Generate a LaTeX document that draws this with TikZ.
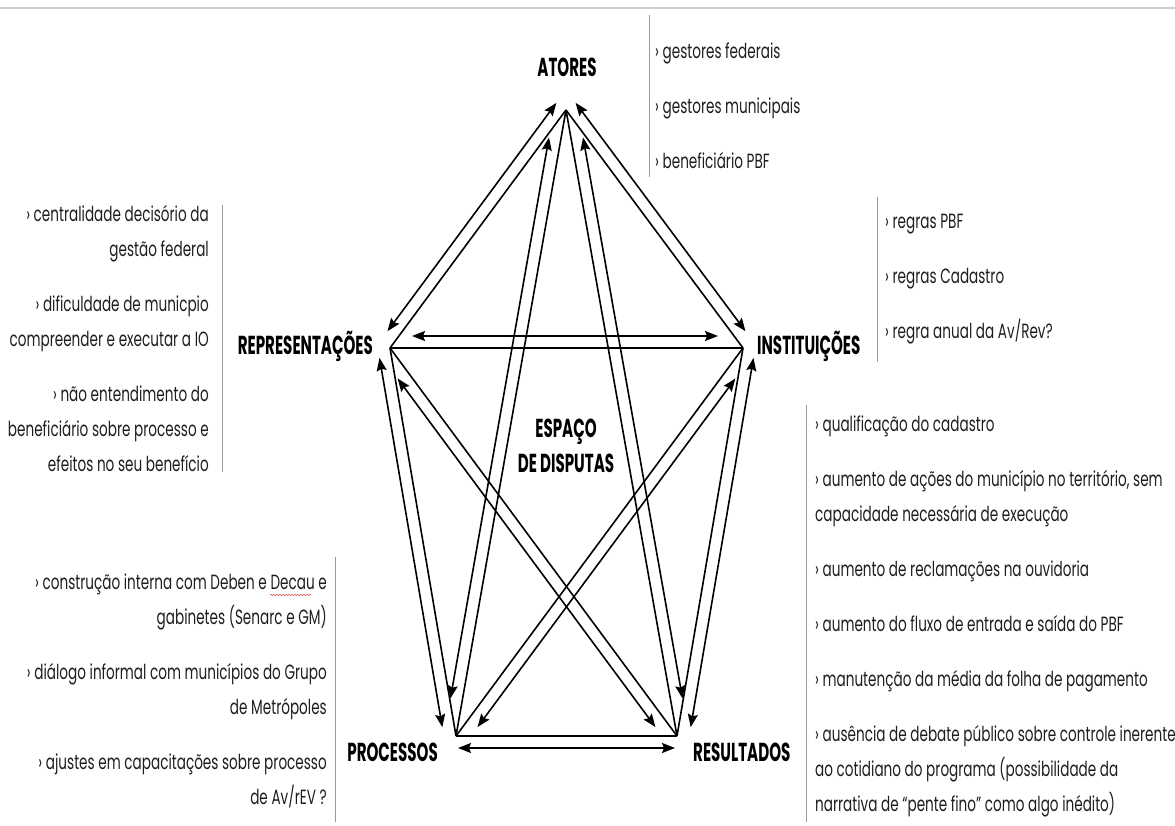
\documentclass[tikz,border=0pt]{standalone}
\usepackage{fontspec}
\setmainfont{Poppins}[FakeStretch=0.66]
\newfontfamily\headfont{Poppins}[FakeStretch=0.58]
\usetikzlibrary{arrows.meta,calc,decorations.pathmorphing}
\definecolor{txt}{HTML}{1E1E1E}
\definecolor{rulegray}{HTML}{9A9A9A}
\definecolor{topgray}{HTML}{CFCFCF}
\definecolor{spellred}{HTML}{E06060}
\tikzset{
  plain/.style={line width=1.6pt, black},
  dbl/.style={line width=1.6pt, black,
    {Stealth[length=13pt,width=10pt,inset=2pt]}-{Stealth[length=13pt,width=10pt,inset=2pt]}},
  head/.style={font=\headfont\fontsize{26}{30}\selectfont\bfseries, text=black, inner sep=0pt},
  block/.style={font=\fontsize{20.6}{35}\selectfont, text=txt, inner sep=0pt},
  sepline/.style={line width=0.8pt, rulegray},
  spell/.style={spellred, line width=0.6pt, decorate,
    decoration={snake, amplitude=0.8pt, segment length=3pt}},
}
\newcommand\twoway[4]{\draw[dbl, shorten <=#3pt, shorten >=#4pt]
  ($(#1)!12pt!90:(#2)$) -- ($(#2)!12pt!-90:(#1)$);}
\begin{document}
\begin{tikzpicture}[x=1pt,y=-1pt]
\useasboundingbox (0,0) rectangle (1175,826);
% top rule
\coordinate (tl) at (0,8);
\coordinate (tr) at (1175,8);
\draw[topgray, line width=2pt] (tl) -- (tr);

% pentagon vertices
\coordinate (A) at (566,110);
\coordinate (R) at (390,348);
\coordinate (I) at (743,348);
\coordinate (P) at (456,736);
\coordinate (S) at (677,736);

% plain lines
\foreach \u/\v in {A/R,A/I,A/P,A/S,R/I,R/P,R/S,I/P,I/S,P/S}
  \draw[plain] (\u) -- (\v);

% double-headed arrows (offset outward)
\twoway{R}{A}{12}{0}
\twoway{A}{I}{0}{12}
\twoway{I}{S}{8}{11}
\twoway{S}{P}{2}{2}
\twoway{P}{R}{11}{8}
\twoway{R}{I}{22}{25}
\twoway{P}{A}{36}{30}
\twoway{A}{S}{30}{36}
\twoway{S}{R}{20}{29}
\twoway{I}{P}{29}{20}

% headings
\node[head, anchor=base] (hA) at (567,77) {ATORES};
\node[head, anchor=base east] (hR) at (373,354) {REPRESENTAÇÕES};
\node[head, anchor=base west] (hI) at (757,354) {INSTITUIÇÕES};
\node[head, anchor=base east] (hP) at (438,761) {PROCESSOS};
\node[head, anchor=base west] (hS) at (693,761) {RESULTADOS};
\node[head, anchor=base, align=center] (hE) at (566,437) {ESPAÇO};
\node[head, anchor=base, align=center] (hE2) at (566,472) {DE DISPUTAS};

% separator lines
\coordinate (s1a) at (649,15);  \coordinate (s1b) at (649,177);
\coordinate (s2a) at (222,205); \coordinate (s2b) at (222,472);
\coordinate (s3a) at (877,197); \coordinate (s3b) at (877,362);
\coordinate (s4a) at (806,405); \coordinate (s4b) at (806,822);
\coordinate (s5a) at (335,557); \coordinate (s5b) at (335,822);
\draw[sepline] (s1a) -- (s1b);
\draw[sepline] (s2a) -- (s2b);
\draw[sepline] (s3a) -- (s3b);
\draw[sepline] (s4a) -- (s4b);
\draw[sepline] (s5a) -- (s5b);

% text blocks
\node[block, anchor=north west, align=left] (tA) at (655,33.5) {%
\strut› gestores federais\\[20pt]
\strut› gestores municipais\\[20pt]
\strut› beneficiário PBF};

\node[block, anchor=north east, align=right] (tR) at (209,196.5) {%
\strut› centralidade decisório da\\
\strut gestão federal\\[20pt]
\strut› dificuldade de municpio\\
\strut compreender e executar a IO\\[20pt]
\strut› não entendimento do\\
\strut beneficiário sobre processo e\\
\strut efeitos no seu benefício};

\node[block, anchor=north west, align=left] (tI) at (885,203.5) {%
\strut› regras PBF\\[20pt]
\strut› regras Cadastro\\[20pt]
\strut› regra anual da Av/Rev?};

\node[block, anchor=north west, align=left] (tS) at (815,406.5) {%
\strut› qualificação do cadastro\\[20pt]
\strut› aumento de ações do município no território, sem\\
\strut capacidade necessária de execução\\[20pt]
\strut› aumento de reclamações na ouvidoria\\[20pt]
\strut› aumento do fluxo de entrada e saída do PBF\\[20pt]
\strut› manutenção da média da folha de pagamento\\[20pt]
\strut› ausência de debate público sobre controle inerente\\
\strut ao cotidiano do programa (possibilidade da\\
\strut narrativa de “pente fino” como algo inédito)};

\node[block, anchor=north east, align=right] (tP) at (327,564.5) {%
\strut› construção interna com Deben e Decau e\\
\strut gabinetes (Senarc e GM)\\[20pt]
\strut› diálogo informal com municípios do Grupo\\
\strut de Metrópoles\\[20pt]
\strut› ajustes em capacitações sobre processo\\
\strut de Av/rEV ?};

% spell-check underline under "Decau"
\coordinate (wa) at (270,595);
\coordinate (wb) at (311,595);
\draw[spell] (wa) -- (wb);
\end{tikzpicture}
\end{document}
